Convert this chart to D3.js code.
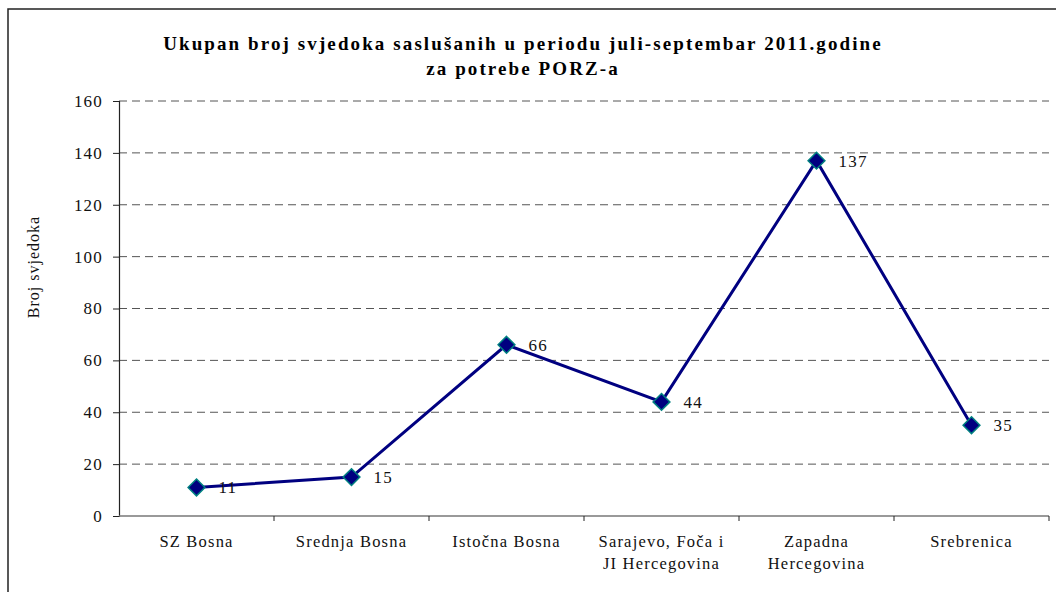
<!DOCTYPE html>
<html>
<head>
<meta charset="utf-8">
<script src="https://cdn.jsdelivr.net/npm/d3@7"></script>
<style>
  html, body { margin: 0; padding: 0; background: #fff; }
  svg { display: block; }
  svg text { font-family: "Liberation Serif", "Times New Roman", serif; }
</style>
</head>
<body>
<div id="chart"></div>
<script>
// Chart data
const categories = ['SZ Bosna', 'Srednja Bosna', 'Istočna Bosna', 'Sarajevo, Foča i|JI Hercegovina', 'Zapadna|Hercegovina', 'Srebrenica'];
const values = [11, 15, 66, 44, 137, 35];
const yTicks = [0, 20, 40, 60, 80, 100, 120, 140, 160];
const titleLines = ['Ukupan broj svjedoka saslušanih u periodu juli-septembar 2011.godine', 'za potrebe PORZ-a'];
const yTitle = 'Broj svjedoka';

const SERIF = '"Liberation Serif", "Times New Roman", serif';
const W = 1056, H = 592;
const margin = { top: 101, right: 7, bottom: 76, left: 119 };
const width = W - margin.left - margin.right;
const height = H - margin.top - margin.bottom;

const svg = d3.select('#chart').append('svg')
  .attr('width', W)
  .attr('height', H);

// outer frame (only left + top visible in the picture)
svg.append('rect')
  .attr('x', 8).attr('y', 9)
  .attr('width', 1100).attr('height', 700)
  .attr('fill', 'none')
  .attr('stroke', '#222')
  .attr('stroke-width', 1.5);

// Title
svg.append('text')
  .attr('x', 523)
  .attr('y', 50)
  .attr('text-anchor', 'middle')
  .attr('font-family', SERIF)
  .style('font-size', '19px')
  .style('font-weight', 'bold')
  .style('letter-spacing', '2.1px')
  .selectAll('tspan')
  .data(titleLines).enter().append('tspan')
  .attr('x', 523)
  .attr('dy', (d, i) => i === 0 ? 0 : 25)
  .text(d => d);

const g = svg.append('g')
  .attr('transform', `translate(${margin.left},${margin.top})`);

const x = d3.scaleBand().domain(categories).range([0, width]);
const y = d3.scaleLinear().domain([0, 160]).range([height, 0]);

// Gridlines
g.selectAll('.grid')
  .data(yTicks.filter(t => t > 0)).enter().append('line')
  .attr('x1', 0).attr('x2', width)
  .attr('y1', d => y(d)).attr('y2', d => y(d))
  .attr('stroke', '#555')
  .attr('stroke-width', 1)
  .attr('stroke-dasharray', '8,5');

// Y axis
const yAxis = g.append('g')
  .call(d3.axisLeft(y).tickValues(yTicks).tickSize(6).tickPadding(10).tickFormat(d3.format('d')));
yAxis.attr('font-family', SERIF);
yAxis.select('.domain').attr('stroke', '#222').attr('stroke-width', 1.2);
yAxis.selectAll('.tick line').attr('stroke', '#222');
yAxis.selectAll('text')
  .attr('font-family', SERIF)
  .style('font-size', '17px')
  .style('letter-spacing', '1.2px')
  .attr('fill', '#111');

// X axis
const boundaries = categories.map(c => x(c)).concat([width]);
g.append('line')
  .attr('x1', 0).attr('x2', width)
  .attr('y1', height).attr('y2', height)
  .attr('stroke', '#777')
  .attr('stroke-width', 1.5);
g.selectAll('.xtick')
  .data(boundaries.slice(1)).enter().append('line')
  .attr('x1', d => d).attr('x2', d => d)
  .attr('y1', height).attr('y2', height + 5)
  .attr('stroke', '#222');

const xLabels = g.selectAll('.xlab')
  .data(categories).enter().append('text')
  .attr('text-anchor', 'middle')
  .attr('font-family', SERIF)
  .attr('transform', d => `translate(${x(d) + x.bandwidth() / 2},${height + 31})`)
  .style('font-size', '16.5px')
  .style('letter-spacing', '1.2px')
  .attr('fill', '#111');
xLabels.selectAll('tspan')
  .data(d => d.split('|')).enter().append('tspan')
  .attr('x', 0)
  .attr('dy', (d, i) => i === 0 ? 0 : 22)
  .text(d => d);

// Y axis title
svg.append('text')
  .attr('transform', 'translate(39,267) rotate(-90)')
  .attr('text-anchor', 'middle')
  .attr('font-family', SERIF)
  .style('font-size', '16px')
  .style('letter-spacing', '1px')
  .attr('fill', '#111')
  .text(yTitle);

// Line
const cx = (d, i) => x(categories[i]) + x.bandwidth() / 2;
const line = d3.line()
  .x((d, i) => cx(d, i))
  .y(d => y(d));

g.append('path')
  .datum(values)
  .attr('d', line)
  .attr('fill', 'none')
  .attr('stroke', '#000080')
  .attr('stroke-width', 3);

// Markers
const diamond = d3.symbol().type(d3.symbolDiamond2).size(180);
g.selectAll('.marker')
  .data(values).enter().append('path')
  .attr('d', diamond)
  .attr('transform', (d, i) => `translate(${cx(d, i)},${y(d)})`)
  .attr('fill', '#000080')
  .attr('stroke', '#008080')
  .attr('stroke-width', 1.5);

// Value labels
g.selectAll('.vlabel')
  .data(values).enter().append('text')
  .attr('x', (d, i) => cx(d, i) + 22)
  .attr('y', d => y(d) + 6)
  .attr('font-family', SERIF)
  .style('font-size', '17px')
  .style('letter-spacing', '1.2px')
  .attr('fill', '#111')
  .text(d => d);
</script>
</body>
</html>
